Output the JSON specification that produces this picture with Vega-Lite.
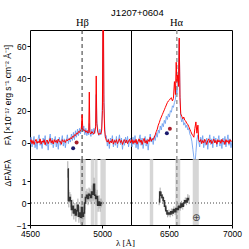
{
  "$schema": "https://vega.github.io/schema/vega-lite/v6.json",
  "padding": {"left": 2, "top": 7, "right": 1, "bottom": 0},
  "title": {"text": "J1207+0604", "font": "Liberation Sans", "fontSize": 9.5, "fontWeight": "normal", "anchor": "middle", "frame": "bounds", "dx": 15, "offset": 0, "color": "black"},
  "config": {
    "view": {"stroke": "black", "strokeWidth": 1},
    "concat": {"spacing": 0}
  },
  "datasets": {
    "L": [
      {"w":4500,"r":0.5,"b":-1.0},{"w":4507,"r":2.0,"b":3.5},{"w":4514,"r":-0.5,"b":-2.5},{"w":4521,"r":1.5,"b":1.0},{"w":4528,"r":-1.0,"b":4.0},{"w":4535,"r":0.8,"b":-3.0},{"w":4542,"r":2.2,"b":0.5},{"w":4549,"r":-0.3,"b":-4.0},{"w":4556,"r":1.0,"b":2.5},{"w":4563,"r":0.0,"b":5.0},{"w":4570,"r":2.5,"b":-1.5},{"w":4577,"r":-0.8,"b":1.0},{"w":4584,"r":1.2,"b":-3.5},{"w":4591,"r":0.3,"b":3.0},{"w":4598,"r":2.0,"b":-0.5},{"w":4605,"r":-1.2,"b":4.5},{"w":4612,"r":0.9,"b":-2.0},{"w":4619,"r":1.8,"b":1.5},{"w":4626,"r":-0.5,"b":-4.5},{"w":4633,"r":1.0,"b":2.0},{"w":4640,"r":2.8,"b":5.5},{"w":4647,"r":0.0,"b":-1.0},{"w":4654,"r":1.5,"b":3.0},{"w":4661,"r":-0.7,"b":-3.0},{"w":4668,"r":2.0,"b":0.5},{"w":4675,"r":0.4,"b":4.0},{"w":4682,"r":1.6,"b":-2.5},{"w":4689,"r":-0.2,"b":2.0},{"w":4696,"r":2.4,"b":-4.0},{"w":4703,"r":0.6,"b":3.5},{"w":4710,"r":1.0,"b":-1.5},{"w":4717,"r":-0.9,"b":1.0},{"w":4724,"r":2.0,"b":4.5},{"w":4731,"r":0.8,"b":-2.0},{"w":4738,"r":1.5,"b":2.5},{"w":4745,"r":0.2,"b":-3.0},{"w":4752,"r":2.0,"b":1.5},{"w":4759,"r":1.2,"b":5.0},{"w":4766,"r":2.5,"b":-0.5},{"w":4773,"r":1.8,"b":3.0},{"w":4780,"r":3.2,"b":0.5},{"w":4787,"r":2.5,"b":5.5},{"w":4794,"r":4.0,"b":1.5},{"w":4801,"r":3.5,"b":6.5},{"w":4808,"r":5.0,"b":2.0},{"w":4815,"r":4.5,"b":7.5},{"w":4822,"r":6.0,"b":3.5},{"w":4829,"r":5.5,"b":8.5},{"w":4836,"r":7.0,"b":4.5},{"w":4843,"r":6.5,"b":9.0},{"w":4850,"r":8.0,"b":5.5},{"w":4856,"r":8.5,"b":10.0},{"w":4861,"r":17.5,"b":12.0},{"w":4866,"r":9.0,"b":7.0},{"w":4873,"r":7.5,"b":10.5},{"w":4880,"r":8.0,"b":5.0},{"w":4887,"r":6.5,"b":9.0},{"w":4894,"r":7.5,"b":4.5},{"w":4901,"r":6.0,"b":8.0},{"w":4907,"r":7.0,"b":5.0},{"w":4911,"r":31.5,"b":12.0},{"w":4915,"r":6.5,"b":7.5},{"w":4922,"r":5.5,"b":4.0},{"w":4929,"r":7.0,"b":8.5},{"w":4936,"r":6.0,"b":5.0},{"w":4943,"r":5.5,"b":9.0},{"w":4950,"r":7.5,"b":6.0},{"w":4955,"r":10.0,"b":12.0},{"w":4959,"r":41.5,"b":30.0},{"w":4963,"r":12.0,"b":14.0},{"w":4970,"r":6.5,"b":8.0},{"w":4977,"r":5.0,"b":4.5},{"w":4984,"r":6.0,"b":8.5},{"w":4991,"r":5.5,"b":5.0},{"w":4997,"r":8.0,"b":10.0},{"w":5002,"r":20.0,"b":25.0},{"w":5007,"r":120.0,"b":90.0},{"w":5012,"r":25.0,"b":30.0},{"w":5017,"r":8.0,"b":12.0},{"w":5022,"r":4.0,"b":3.0},{"w":5029,"r":1.5,"b":4.5},{"w":5036,"r":0.5,"b":-2.0},{"w":5043,"r":2.0,"b":2.5},{"w":5050,"r":-0.5,"b":-3.5},{"w":5057,"r":1.2,"b":3.0},{"w":5064,"r":0.0,"b":0.5},{"w":5071,"r":2.3,"b":4.5},{"w":5078,"r":-0.8,"b":-2.5},{"w":5085,"r":1.5,"b":2.0},{"w":5092,"r":0.3,"b":-1.5},{"w":5099,"r":2.0,"b":4.0},{"w":5106,"r":-0.5,"b":-3.0},{"w":5113,"r":1.0,"b":1.5},{"w":5120,"r":2.5,"b":5.0},{"w":5127,"r":0.2,"b":-1.0},{"w":5134,"r":1.5,"b":3.0},{"w":5141,"r":-1.0,"b":-4.0},{"w":5148,"r":0.8,"b":2.0},{"w":5155,"r":2.0,"b":-1.5},{"w":5162,"r":0.0,"b":3.5},{"w":5169,"r":1.8,"b":0.0},{"w":5176,"r":-0.5,"b":4.0},{"w":5183,"r":1.2,"b":-2.5},{"w":5190,"r":2.2,"b":1.5},{"w":5197,"r":0.0,"b":3.0},{"w":5200,"r":1.0,"b":-0.5}
    ],
    "R": [
      {"w":6200,"r":0.5,"b":2.0},{"w":6208,"r":2.0,"b":-2.5},{"w":6216,"r":-0.5,"b":3.5},{"w":6224,"r":1.5,"b":-1.0},{"w":6232,"r":0.0,"b":4.5},{"w":6240,"r":2.2,"b":-3.0},{"w":6248,"r":-0.8,"b":1.5},{"w":6256,"r":1.0,"b":-4.0},{"w":6264,"r":2.5,"b":2.5},{"w":6272,"r":0.3,"b":5.0},{"w":6280,"r":1.8,"b":-1.5},{"w":6288,"r":-1.0,"b":3.0},{"w":6296,"r":1.2,"b":-3.5},{"w":6304,"r":2.8,"b":1.0},{"w":6312,"r":0.0,"b":4.0},{"w":6320,"r":1.5,"b":-2.0},{"w":6328,"r":-0.6,"b":2.5},{"w":6336,"r":2.0,"b":-4.5},{"w":6344,"r":0.8,"b":1.5},{"w":6352,"r":3.5,"b":5.5},{"w":6360,"r":1.0,"b":0.5},{"w":6368,"r":2.5,"b":3.0},{"w":6376,"r":2.0,"b":-1.0},{"w":6384,"r":3.5,"b":4.0},{"w":6392,"r":5.0,"b":1.5},{"w":6400,"r":7.0,"b":6.0},{"w":6408,"r":8.5,"b":3.5},{"w":6416,"r":11.0,"b":8.0},{"w":6424,"r":12.5,"b":6.0},{"w":6432,"r":14.5,"b":10.5},{"w":6440,"r":16.0,"b":8.0},{"w":6448,"r":17.5,"b":12.0},{"w":6456,"r":19.0,"b":10.0},{"w":6464,"r":20.5,"b":14.0},{"w":6472,"r":22.0,"b":12.0},{"w":6480,"r":23.5,"b":16.5},{"w":6488,"r":25.0,"b":14.5},{"w":6496,"r":26.0,"b":18.0},{"w":6504,"r":26.5,"b":16.0},{"w":6512,"r":27.5,"b":20.0},{"w":6520,"r":28.0,"b":19.0},{"w":6528,"r":26.0,"b":23.0},{"w":6536,"r":27.5,"b":22.0},{"w":6544,"r":38.0,"b":25.0},{"w":6552,"r":30.0,"b":27.0},{"w":6558,"r":50.0,"b":33.0},{"w":6564,"r":38.0,"b":30.0},{"w":6570,"r":42.0,"b":36.0},{"w":6576,"r":35.0,"b":45.0},{"w":6582,"r":65.0,"b":64.0},{"w":6588,"r":28.0,"b":30.0},{"w":6594,"r":18.0,"b":16.0},{"w":6602,"r":16.5,"b":13.0},{"w":6610,"r":15.0,"b":15.5},{"w":6618,"r":16.0,"b":11.0},{"w":6626,"r":14.0,"b":12.5},{"w":6634,"r":13.5,"b":9.5},{"w":6642,"r":12.0,"b":11.0},{"w":6650,"r":11.5,"b":8.0},{"w":6658,"r":10.0,"b":9.0},{"w":6666,"r":8.5,"b":5.5},{"w":6674,"r":7.0,"b":4.0},{"w":6682,"r":5.5,"b":1.0},{"w":6690,"r":4.5,"b":-4.0},{"w":6698,"r":3.5,"b":-9.0},{"w":6706,"r":9.0,"b":-14.0},{"w":6714,"r":13.0,"b":-6.0},{"w":6722,"r":6.0,"b":2.0},{"w":6730,"r":11.0,"b":5.0},{"w":6736,"r":2.0,"b":1.0},{"w":6744,"r":0.5,"b":-2.5},{"w":6752,"r":2.0,"b":3.5},{"w":6760,"r":-0.5,"b":0.0},{"w":6768,"r":1.5,"b":4.5},{"w":6776,"r":0.0,"b":-3.0},{"w":6784,"r":2.2,"b":2.0},{"w":6792,"r":0.8,"b":-1.5},{"w":6800,"r":-1.0,"b":3.0},{"w":6808,"r":1.5,"b":-4.0},{"w":6816,"r":2.5,"b":1.5},{"w":6824,"r":0.2,"b":5.0},{"w":6832,"r":1.8,"b":-1.0},{"w":6840,"r":-0.5,"b":2.5},{"w":6848,"r":1.0,"b":-3.0},{"w":6856,"r":2.3,"b":4.0},{"w":6864,"r":0.0,"b":0.0},{"w":6872,"r":1.5,"b":3.0},{"w":6880,"r":-0.8,"b":-2.5},{"w":6888,"r":2.0,"b":1.5},{"w":6896,"r":0.5,"b":4.5},{"w":6904,"r":1.5,"b":-2.0},{"w":6912,"r":-0.3,"b":2.0},{"w":6920,"r":2.2,"b":-3.5},{"w":6928,"r":0.6,"b":3.0},{"w":6936,"r":1.2,"b":-1.0},{"w":6944,"r":-1.0,"b":4.0},{"w":6952,"r":2.0,"b":-2.5},{"w":6960,"r":0.4,"b":1.5},{"w":6968,"r":1.5,"b":5.0},{"w":6976,"r":-0.5,"b":-1.5},{"w":6984,"r":2.0,"b":2.5},{"w":6992,"r":0.8,"b":-3.0},{"w":7000,"r":1.5,"b":1.0}
    ],
    "dotsL": [{"w":4799,"f":-3.3,"s":"b"},{"w":4823,"f":0.2,"s":"r"}],
    "dotsR": [{"w":6484,"f":6.0,"s":"b"},{"w":6508,"f":8.7,"s":"r"}],
    "linesL": [{"w":4861}],
    "linesR": [{"w":6563}],
    "zero": [{"v":0}],
    "bandsL": [{"w":4847,"z":4886},{"w":4921,"z":4944},{"w":4947,"z":4968},{"w":4988,"z":5025}],
    "bandsR": [{"w":6349,"z":6376},{"w":6551,"z":6590},{"w":6689,"z":6737}],
    "earth": [{"w":6717,"v":-0.66,"t":"⊕"}],
    "BL": [
      {"w":4762,"v":1.55,"lo":1.15,"hi":1.9},{"w":4769,"v":0.1,"lo":-0.2,"hi":0.6},{"w":4776,"v":0.25,"lo":0.0,"hi":0.5},{"w":4783,"v":0.1,"lo":-0.2,"hi":0.4},{"w":4790,"v":-0.3,"lo":-0.6,"hi":0.0},{"w":4797,"v":-0.15,"lo":-0.45,"hi":0.15},{"w":4804,"v":-0.45,"lo":-0.75,"hi":-0.15},{"w":4811,"v":-0.3,"lo":-0.6,"hi":0.0},{"w":4818,"v":-0.55,"lo":-0.85,"hi":-0.25},{"w":4825,"v":-0.35,"lo":-0.65,"hi":-0.05},{"w":4832,"v":-0.1,"lo":-0.4,"hi":0.2},{"w":4839,"v":-0.6,"lo":-0.9,"hi":-0.3},{"w":4846,"v":-0.45,"lo":-0.75,"hi":-0.15},{"w":4853,"v":-0.65,"lo":-0.95,"hi":-0.35},{"w":4860,"v":-0.2,"lo":-0.5,"hi":0.1},{"w":4867,"v":-0.6,"lo":-0.9,"hi":-0.3},{"w":4874,"v":-0.45,"lo":-0.75,"hi":-0.15},{"w":4881,"v":0.0,"lo":-0.3,"hi":0.3},{"w":4888,"v":0.25,"lo":-0.05,"hi":0.55},{"w":4895,"v":0.35,"lo":0.05,"hi":0.65},{"w":4902,"v":0.2,"lo":-0.1,"hi":0.5},{"w":4909,"v":0.4,"lo":0.1,"hi":0.7},{"w":4916,"v":0.35,"lo":0.05,"hi":0.65},{"w":4923,"v":0.25,"lo":-0.05,"hi":0.55},{"w":4930,"v":0.5,"lo":0.2,"hi":0.8},{"w":4937,"v":0.4,"lo":0.1,"hi":0.7},{"w":4944,"v":0.85,"lo":0.55,"hi":1.15},{"w":4951,"v":0.35,"lo":0.05,"hi":0.65},{"w":4958,"v":0.2,"lo":-0.1,"hi":0.5},{"w":4965,"v":0.3,"lo":0.0,"hi":0.6},{"w":4972,"v":-0.1,"lo":-0.4,"hi":0.2},{"w":4979,"v":0.05,"lo":-0.25,"hi":0.35},{"w":4986,"v":-0.1,"lo":-0.4,"hi":0.2},{"w":4993,"v":0.0,"lo":-0.2,"hi":0.2},{"w":5000,"v":0.0,"lo":-0.1,"hi":0.1}
    ],
    "BR": [
      {"w":6423,"v":0.05,"lo":-0.1,"hi":0.2},{"w":6431,"v":0.5,"lo":0.3,"hi":0.7},{"w":6440,"v":0.35,"lo":0.2,"hi":0.5},{"w":6450,"v":0.25,"lo":0.1,"hi":0.4},{"w":6460,"v":0.1,"lo":-0.05,"hi":0.25},{"w":6470,"v":-0.15,"lo":-0.3,"hi":0.0},{"w":6480,"v":-0.35,"lo":-0.5,"hi":-0.2},{"w":6490,"v":-0.5,"lo":-0.65,"hi":-0.35},{"w":6500,"v":-0.45,"lo":-0.6,"hi":-0.3},{"w":6510,"v":-0.5,"lo":-0.65,"hi":-0.35},{"w":6520,"v":-0.4,"lo":-0.55,"hi":-0.25},{"w":6530,"v":-0.45,"lo":-0.6,"hi":-0.3},{"w":6540,"v":-0.3,"lo":-0.45,"hi":-0.15},{"w":6550,"v":-0.4,"lo":-0.55,"hi":-0.25},{"w":6560,"v":-0.25,"lo":-0.6,"hi":0.1},{"w":6570,"v":-0.3,"lo":-0.45,"hi":-0.15},{"w":6580,"v":-0.15,"lo":-0.3,"hi":0.0},{"w":6590,"v":-0.2,"lo":-0.35,"hi":-0.05},{"w":6600,"v":-0.05,"lo":-0.2,"hi":0.1},{"w":6610,"v":-0.15,"lo":-0.3,"hi":0.0},{"w":6620,"v":0.0,"lo":-0.15,"hi":0.15},{"w":6630,"v":0.1,"lo":-0.05,"hi":0.25},{"w":6640,"v":0.05,"lo":-0.1,"hi":0.2},{"w":6650,"v":0.2,"lo":0.0,"hi":0.4},{"w":6660,"v":0.15,"lo":-0.05,"hi":0.35}
    ]
  },
  "columns": 2,
  "spacing": 0,
  "bounds": "flush",
  "concat": [
    {
      "width": 101, "height": 129,
      "title": {"text": "Hβ", "font": "Liberation Serif", "fontSize": 10.5, "fontWeight": "normal", "anchor": "middle", "frame": "group", "dx": 2, "offset": 1, "color": "black"},
      "encoding": {
        "x": {"field": "w", "type": "quantitative", "scale": {"domain": [4500, 5200], "nice": false, "zero": false},
              "axis": {"values": [4500,4600,4700,4800,4900,5000,5100,5200], "labels": false, "title": null, "domain": false, "grid": false, "ticks": false}},
        "y": {"field": "value", "type": "quantitative", "scale": {"domain": [-10, 70], "nice": false, "zero": false},
              "axis": {"values": [0, 20, 40, 60], "format": "d", "labelOverlap": false, "labelFlush": false, "labelPadding": 1, "labelFont": "Liberation Sans", "labelFontSize": 8.5, "labelColor": "black", "title": "Fλ [×10⁻¹⁷ erg s⁻¹ cm⁻² Å⁻¹]", "titleFont": "Liberation Sans", "titleFontSize": 8.5, "titleFontWeight": "normal", "titleColor": "black", "titlePadding": 4, "domain": false, "grid": false, "tickSize": 3, "tickColor": "black"}}
      },
      "layer": [
        {"data": {"name": "L"}, "transform": [{"fold": ["b"], "as": ["key", "value"]}],
         "mark": {"type": "line", "color": "#6a9ef0", "opacity": 0.85, "strokeWidth": 1, "clip": true}},
        {"data": {"name": "linesL"}, "mark": {"type": "rule", "color": "#333333", "strokeDash": [4, 3], "strokeWidth": 1},
         "encoding": {"y": null}},
        {"data": {"name": "L"}, "transform": [{"fold": ["r"], "as": ["key", "value"]}],
         "mark": {"type": "line", "color": "#ff0000", "strokeWidth": 1, "clip": true}},
        {"data": {"name": "dotsL"}, "transform": [{"fold": ["f"], "as": ["key", "value"]}],
         "mark": {"type": "circle", "size": 16, "opacity": 1},
         "encoding": {"color": {"field": "s", "type": "nominal", "scale": {"domain": ["b", "r"], "range": ["#1a1a6e", "#a8202c"]}, "legend": null}}}
      ]
    },
    {
      "width": 101, "height": 129,
      "title": {"text": "Hα", "font": "Liberation Serif", "fontSize": 10.5, "fontWeight": "normal", "anchor": "middle", "frame": "group", "dx": -5, "offset": 1, "color": "black"},
      "encoding": {
        "x": {"field": "w", "type": "quantitative", "scale": {"domain": [6200, 7000], "nice": false, "zero": false},
              "axis": {"values": [6200,6300,6400,6500,6600,6700,6800,6900,7000], "labels": false, "title": null, "domain": false, "grid": false, "ticks": false}},
        "y": {"field": "value", "type": "quantitative", "scale": {"domain": [-10, 70], "nice": false, "zero": false},
              "axis": {"values": [0, 20, 40, 60], "labels": false, "title": null, "domain": false, "grid": false, "ticks": false}}
      },
      "layer": [
        {"data": {"name": "R"}, "transform": [{"fold": ["b"], "as": ["key", "value"]}],
         "mark": {"type": "line", "color": "#6a9ef0", "opacity": 0.85, "strokeWidth": 1, "clip": true}},
        {"data": {"name": "linesR"}, "mark": {"type": "rule", "color": "#999999", "strokeDash": [4, 3], "strokeWidth": 1.5},
         "encoding": {"y": null}},
        {"data": {"name": "R"}, "transform": [{"fold": ["r"], "as": ["key", "value"]}],
         "mark": {"type": "line", "color": "#ff0000", "strokeWidth": 1, "clip": true}},
        {"data": {"name": "dotsR"}, "transform": [{"fold": ["f"], "as": ["key", "value"]}],
         "mark": {"type": "circle", "size": 16, "opacity": 1},
         "encoding": {"color": {"field": "s", "type": "nominal", "scale": {"domain": ["b", "r"], "range": ["#1a1a6e", "#a8202c"]}, "legend": null}}}
      ]
    },
    {
      "width": 101, "height": 66,
      "encoding": {
        "x": {"field": "w", "type": "quantitative", "scale": {"domain": [4500, 5200], "nice": false, "zero": false},
              "axis": {"values": [4500, 5000], "format": "d", "labelOverlap": false, "labelFlush": false, "labelPadding": 1, "labelFont": "Liberation Sans", "labelFontSize": 8.5, "labelColor": "black", "title": "λ [Å]", "titleFont": "Liberation Serif", "titleFontSize": 9, "titleFontWeight": "normal", "titleColor": "black", "titleX": 95, "titleAlign": "center", "titlePadding": 1, "domain": false, "grid": false, "tickSize": 3, "tickColor": "black"}},
        "y": {"field": "value", "type": "quantitative", "scale": {"domain": [-1, 2], "nice": false, "zero": false},
              "axis": {"values": [-1, 0, 1], "format": "d", "labelOverlap": false, "labelFlush": false, "labelPadding": 1, "labelFont": "Liberation Sans", "labelFontSize": 8.5, "labelColor": "black", "title": "ΔFλ/Fλ", "titleFont": "Liberation Sans", "titleFontSize": 8.5, "titleFontWeight": "normal", "titleColor": "black", "titleAnchor": "end", "titlePadding": 4, "domain": false, "grid": false, "tickSize": 3, "tickColor": "black"}}
      },
      "layer": [
        {"data": {"name": "bandsL"}, "mark": {"type": "rect", "color": "#cccccc", "opacity": 0.8},
         "encoding": {"x2": {"field": "z"}, "y": null}},
        {"data": {"name": "zero"}, "transform": [{"fold": ["v"], "as": ["key", "value"]}],
         "mark": {"type": "rule", "color": "#444444", "strokeDash": [1, 2], "strokeWidth": 1},
         "encoding": {"x": null}},
        {"data": {"name": "linesL"}, "mark": {"type": "rule", "color": "#333333", "strokeDash": [4, 3], "strokeWidth": 1},
         "encoding": {"y": null}},
        {"data": {"name": "BL"}, "transform": [{"fold": ["lo", "hi"], "as": ["key", "value"]}],
         "mark": {"type": "line", "color": "#aaaaaa", "strokeWidth": 1},
         "encoding": {"detail": {"field": "w", "type": "nominal"}}},
        {"data": {"name": "BL"}, "transform": [{"fold": ["v"], "as": ["key", "value"]}],
         "mark": {"type": "line", "interpolate": "step", "color": "#333333", "strokeWidth": 1.5}}
      ]
    },
    {
      "width": 101, "height": 66,
      "encoding": {
        "x": {"field": "w", "type": "quantitative", "scale": {"domain": [6200, 7000], "nice": false, "zero": false},
              "axis": {"values": [6500, 7000], "format": "d", "labelOverlap": false, "labelFlush": false, "labelPadding": 1, "labelFont": "Liberation Sans", "labelFontSize": 8.5, "labelColor": "black", "title": null, "domain": false, "grid": false, "tickSize": 3, "tickColor": "black"}},
        "y": {"field": "value", "type": "quantitative", "scale": {"domain": [-1, 2], "nice": false, "zero": false},
              "axis": {"values": [-1, 0, 1], "labels": false, "title": null, "domain": false, "grid": false, "ticks": false}}
      },
      "layer": [
        {"data": {"name": "bandsR"}, "mark": {"type": "rect", "color": "#cccccc", "opacity": 0.8},
         "encoding": {"x2": {"field": "z"}, "y": null}},
        {"data": {"name": "zero"}, "transform": [{"fold": ["v"], "as": ["key", "value"]}],
         "mark": {"type": "rule", "color": "#444444", "strokeDash": [1, 2], "strokeWidth": 1},
         "encoding": {"x": null}},
        {"data": {"name": "linesR"}, "mark": {"type": "rule", "color": "#999999", "strokeDash": [4, 3], "strokeWidth": 1.5},
         "encoding": {"y": null}},
        {"data": {"name": "BR"}, "transform": [{"fold": ["lo", "hi"], "as": ["key", "value"]}],
         "mark": {"type": "line", "color": "#aaaaaa", "strokeWidth": 1},
         "encoding": {"detail": {"field": "w", "type": "nominal"}}},
        {"data": {"name": "BR"}, "transform": [{"fold": ["v"], "as": ["key", "value"]}],
         "mark": {"type": "line", "interpolate": "step", "color": "#333333", "strokeWidth": 1.5}},
        {"data": {"name": "earth"}, "transform": [{"fold": ["v"], "as": ["key", "value"]}],
         "mark": {"type": "text", "font": "DejaVu Sans", "fontSize": 10, "color": "#444444"},
         "encoding": {"text": {"field": "t"}}}
      ]
    }
  ]
}
